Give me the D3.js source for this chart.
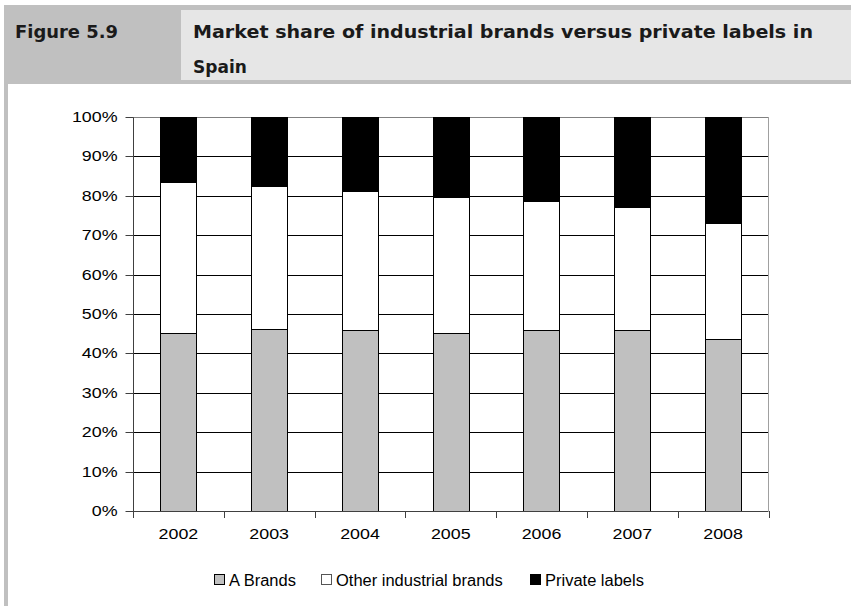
<!DOCTYPE html>
<html>
<head>
<meta charset="utf-8">
<script src="https://cdn.jsdelivr.net/npm/d3@7"></script>
<style>
  html, body { margin: 0; padding: 0; background: #fff; }
  svg { display: block; }
</style>
</head>
<body>
<svg id="chart" width="851" height="606"></svg>
<script>
// Market share (%) by year, stacked bottom to top
const years = ["2002", "2003", "2004", "2005", "2006", "2007", "2008"];
const aBrands = [45.3, 46.2, 45.9, 45.1, 46.0, 45.9, 43.7];
const otherBrands = [38.2, 36.4, 35.3, 34.6, 32.7, 31.3, 29.5];
const privateLabels = [16.5, 17.4, 18.8, 20.3, 21.3, 22.8, 26.8];
const seriesNames = ["A Brands", "Other industrial brands", "Private labels"];
const seriesColors = ["#c0c0c0", "#ffffff", "#000000"];
const yTicks = [0, 10, 20, 30, 40, 50, 60, 70, 80, 90, 100];

const svg = d3.select("#chart");

// Stretch a text element horizontally by a factor
function widen(sel, factor) {
  sel.each(function () {
    const w = this.getComputedTextLength();
    d3.select(this).attr("textLength", w * factor).attr("lengthAdjust", "spacingAndGlyphs");
  });
}

// Header band
svg.append("rect").attr("x", 4).attr("y", 5).attr("width", 847).attr("height", 79).attr("fill", "#c0c0c0");
svg.append("rect").attr("x", 181).attr("y", 10).attr("width", 670).attr("height", 70).attr("fill", "#e6e6e6");
// Left frame rule
svg.append("rect").attr("x", 4).attr("y", 84).attr("width", 4).attr("height", 522).attr("fill", "#c0c0c0");

const titleFont = "'DejaVu Sans', sans-serif";
svg.append("text").attr("x", 15).attr("y", 38)
  .attr("font-family", titleFont).attr("font-weight", "bold").attr("font-size", 17)
  .attr("fill", "#1a1a1a").attr("textLength", 103).attr("lengthAdjust", "spacingAndGlyphs")
  .text("Figure 5.9");
svg.append("text").attr("x", 193).attr("y", 38)
  .attr("font-family", titleFont).attr("font-weight", "bold").attr("font-size", 17)
  .attr("fill", "#1a1a1a").attr("textLength", 620).attr("lengthAdjust", "spacingAndGlyphs")
  .text("Market share of industrial brands versus private labels in");
svg.append("text").attr("x", 193).attr("y", 73)
  .attr("font-family", titleFont).attr("font-weight", "bold").attr("font-size", 17)
  .attr("fill", "#1a1a1a").text("Spain");

// Plot area
const plotLeft = 133, plotRight = 768.5, plotTop = 117, plotBottom = 511;
const x = d3.scaleBand().domain(years).range([plotLeft, plotRight]).paddingInner(0.6).paddingOuter(0.3);
const xTick = d3.scaleBand().domain(years).range([plotLeft, plotRight]);
const y = d3.scaleLinear().domain([0, 100]).range([plotBottom, plotTop]);

const rows = years.map((yr, i) => ({ year: yr, a: aBrands[i], o: otherBrands[i], p: privateLabels[i] }));
const stack = d3.stack().keys(["a", "o", "p"]);
const layers = stack(rows);

// Gridlines
svg.append("g").selectAll("line").data(yTicks.filter(t => t > 0 && t < 100)).join("line")
  .attr("x1", plotLeft).attr("x2", plotRight)
  .attr("y1", d => Math.round(y(d)) + 0.5).attr("y2", d => Math.round(y(d)) + 0.5)
  .attr("stroke", "#000").attr("stroke-width", 1);
// Top and right plot borders
svg.append("line").attr("x1", plotLeft).attr("x2", plotRight).attr("y1", plotTop + 0.5).attr("y2", plotTop + 0.5)
  .attr("stroke", "#808080").attr("stroke-width", 1);
svg.append("line").attr("x1", plotRight).attr("x2", plotRight).attr("y1", plotTop).attr("y2", plotBottom)
  .attr("stroke", "#a0a0a0").attr("stroke-width", 1);

// Bars
layers.forEach((layer, k) => {
  svg.append("g").selectAll("rect").data(layer).join("rect")
    .attr("x", d => Math.round(x(d.data.year)) + 0.5)
    .attr("y", d => Math.round(y(d[1])) + 0.5)
    .attr("width", Math.round(x.bandwidth()))
    .attr("height", d => Math.round(y(d[0])) - Math.round(y(d[1])))
    .attr("fill", seriesColors[k])
    .attr("stroke", "#000").attr("stroke-width", 1);
});

const axisFont = "'Liberation Sans', Arial, sans-serif";

// Y axis
const yAxis = d3.axisLeft(y).tickValues(yTicks).tickSize(8).tickPadding(8).tickFormat(d => d + "%");
const gy = svg.append("g").attr("transform", `translate(${plotLeft + 0.5},0.5)`).call(yAxis);
gy.select(".domain").attr("stroke", "#404040").attr("d", `M0,${Math.round(plotBottom)}V${plotTop}`);
gy.selectAll(".tick line").attr("stroke", "#404040");
gy.selectAll(".tick").attr("transform", d => `translate(0,${Math.round(y(d))})`);
const yLabels = gy.selectAll(".tick text").attr("font-family", axisFont).attr("font-size", 15.5).attr("fill", "#000");
widen(yLabels, 1.15);

// X axis
const xAxis = d3.axisBottom(xTick).tickSize(0).tickPadding(16);
const gx = svg.append("g").attr("transform", `translate(0,${plotBottom + 0.5})`).call(xAxis);
gx.select(".domain").attr("stroke", "#404040").attr("d", `M${plotLeft},0H${plotRight}`);
const xLabels = gx.selectAll(".tick text").attr("font-family", axisFont).attr("font-size", 15.5).attr("fill", "#000");
widen(xLabels, 1.15);
// Category separator ticks
svg.append("g").selectAll("line").data(years.concat(["end"])).join("line")
  .attr("x1", (d, i) => Math.round(plotLeft + i * xTick.step()) + 0.5)
  .attr("x2", (d, i) => Math.round(plotLeft + i * xTick.step()) + 0.5)
  .attr("y1", plotBottom).attr("y2", plotBottom + 7)
  .attr("stroke", "#404040");

// Legend
const legendX = [214, 321, 530];
const legend = svg.append("g").selectAll("g").data(seriesNames).join("g")
  .attr("transform", (d, i) => `translate(${legendX[i]},574)`);
legend.append("rect").attr("x", 0.5).attr("y", 0.5).attr("width", 10).attr("height", 10)
  .attr("fill", (d, i) => seriesColors[i]).attr("stroke", (d, i) => i === 1 ? "#555" : "#000");
const legendText = legend.append("text").attr("x", 15).attr("y", 11.5)
  .attr("font-family", axisFont).attr("font-size", 16).attr("fill", "#000")
  .text(d => d);
widen(legendText, 1.03);
</script>
</body>
</html>
